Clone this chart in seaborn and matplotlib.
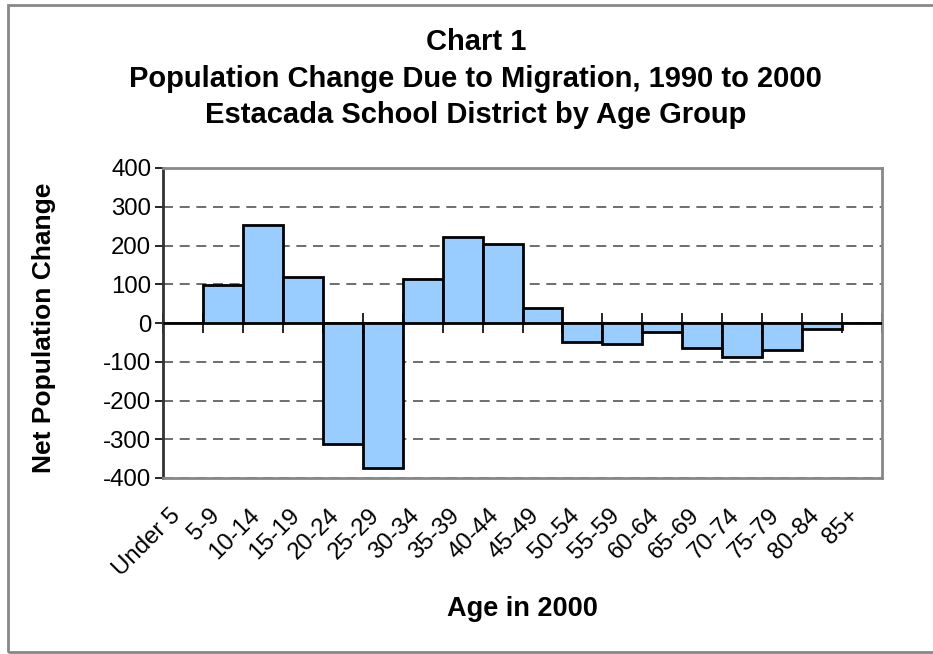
import numpy as np
import pandas as pd
import matplotlib
matplotlib.use("Agg")
import matplotlib.pyplot as plt
from matplotlib.patches import Rectangle
from matplotlib.transforms import ScaledTranslation
import seaborn as sns

# Data
age_groups = ['Under 5', '5-9', '10-14', '15-19', '20-24', '25-29', '30-34', '35-39',
              '40-44', '45-49', '50-54', '55-59', '60-64', '65-69', '70-74', '75-79',
              '80-84', '85+']
net_change = [0, 97, 253, 120, -313, -375, 114, 223,
              203, 38, -49, -53, -23, -64, -87, -70,
              -16, 0]
y_ticks = [-400, -300, -200, -100, 0, 100, 200, 300, 400]

df = pd.DataFrame({'Age': age_groups, 'Change': net_change})

sns.set_theme(style="white")
plt.rcParams['font.family'] = ['Liberation Sans', 'DejaVu Sans']
plt.rcParams['text.color'] = 'black'
plt.rcParams['axes.labelcolor'] = 'black'
plt.rcParams['xtick.color'] = 'black'
plt.rcParams['ytick.color'] = 'black'

fig = plt.figure(figsize=(9.33, 6.54), dpi=100)
ax = fig.add_axes([163 / 933, 1 - 478 / 654, 719 / 933, 310 / 654])

sns.barplot(data=df, x='Age', y='Change', width=1.0, color='#99CCFF',
            saturation=1, edgecolor='black', linewidth=2, ax=ax, zorder=3)

ax.set_ylim(-400, 400)
ax.set_xlim(-0.5, len(age_groups) - 0.5)
ax.set_yticks(y_ticks)
ax.set_yticklabels([str(v) for v in y_ticks], fontsize=17.3)
ax.yaxis.grid(True, linestyle=(0, (6, 4)), color='#555555', linewidth=1.2, zorder=0)
ax.set_axisbelow(True)

ax.set_xticks(range(len(age_groups)))
ax.set_xticklabels(age_groups, rotation=45, ha='right', va='top', rotation_mode='anchor', fontsize=17.3)
ax.tick_params(axis='x', length=0, pad=19)
ax.tick_params(axis='y', direction='out', length=6, width=1.2, color='black', pad=2.5, left=True)
shift = ScaledTranslation(-14 / 100, 0, fig.dpi_scale_trans)
for lbl in ax.get_xticklabels():
    lbl.set_transform(lbl.get_transform() + shift)

for side in ['top', 'right', 'bottom']:
    ax.spines[side].set_color('#888888')
    ax.spines[side].set_linewidth(2)
ax.spines['left'].set_color('#333333')
ax.spines['left'].set_linewidth(2)

# zero line with category boundary ticks
zero_ax = ax.secondary_xaxis(0.5)
zero_ax.set_xticks(np.arange(-0.5, len(age_groups), 1.0))
zero_ax.set_xticklabels([])
zero_ax.tick_params(direction='inout', length=14, width=1.2, color='black')
zero_ax.spines['bottom'].set_color('black')
zero_ax.spines['bottom'].set_linewidth(2.5)

ax.set_xlabel('Age in 2000', fontsize=19.5, fontweight='bold')
ax.xaxis.set_label_coords(0.5, (478 - 609) / 310)
ax.xaxis.label.set_va('center')
ax.set_ylabel('Net Population Change', fontsize=19, fontweight='bold')
ax.yaxis.set_label_coords((44 - 163) / 719, 0.485)
ax.yaxis.label.set_va('center')

fig.text(0.51, 1 - 42 / 654, 'Chart 1', ha='center', va='center', fontsize=21, fontweight='bold')
fig.text(0.51, 1 - 79 / 654, 'Population Change Due to Migration, 1990 to 2000',
         ha='center', va='center', fontsize=21, fontweight='bold')
fig.text(0.51, 1 - 115 / 654, 'Estacada School District by Age Group',
         ha='center', va='center', fontsize=21, fontweight='bold')

# chart area border
fig.patches.append(Rectangle((8 / 933, 2 / 654), 1.0, 647 / 654, transform=fig.transFigure,
                             fill=False, edgecolor='#888888', linewidth=2))

fig.savefig('out.png', dpi=100)
